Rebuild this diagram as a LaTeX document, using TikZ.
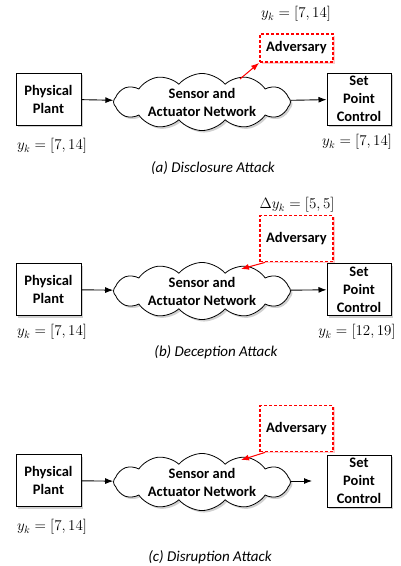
\RequirePackage{fix-cm}
\documentclass[tikz,border=0pt]{standalone}
\usepackage{fontspec}
\setmainfont{Carlito}
\usetikzlibrary{shapes.symbols,shadows,arrows.meta}
\tikzset{
  box/.style={draw=black, line width=1pt, fill=white, minimum width=65pt, minimum height=52pt,
    align=center, inner sep=0pt, font=\fontsize{14.5}{18}\selectfont\bfseries,
    drop shadow={shadow xshift=2pt, shadow yshift=-2pt, fill=black!40, opacity=.45}},
  net/.style={cloud, cloud puffs=12, cloud puff arc=100, cloud ignores aspect, draw=black, line width=0.8pt,
    fill=white, minimum width=177pt, minimum height=48pt, inner sep=0pt, align=center,
    font=\fontsize{14.5}{18}\selectfont\bfseries,
    drop shadow={shadow xshift=2pt, shadow yshift=-2pt, fill=black!40, opacity=.45}},
  adv/.style={draw=red, line width=1.8pt, dash pattern=on 3pt off 2pt, fill=white,
    minimum width=73pt, inner sep=0pt, font=\fontsize{14.5}{18}\selectfont\bfseries,
    drop shadow={shadow xshift=1.5pt, shadow yshift=-1.5pt, fill=red!45, opacity=.45}},
  lbl/.style={inner sep=0pt, font=\fontsize{15}{18}\selectfont},
  captext/.style={inner sep=0pt, font=\fontsize{15}{17}\selectfont\itshape},
  flow/.style={-{Latex[length=8pt,width=6pt]}, line width=0.9pt},
  redflow/.style={-{Latex[length=8pt,width=6pt]}, line width=1pt, draw=red, fill=red}
}
\begin{document}
\begin{tikzpicture}[x=1pt,y=-1pt]
\useasboundingbox (0,0) rectangle (401,566);
% (a)
\node[box] (aplant) at (48.5,99) {Physical\\Plant};
\node[net] (anet) at (202,102) {Sensor and\\Actuator Network};
\node[box, minimum width=64pt] (aspc) at (359,99) {Set\\Point\\Control};
\node[adv, minimum height=28pt] (aadv) at (296.5,48) {Adversary};
\node[lbl] (atop) at (296,14) {$y_k=[7,14]$};
\node[lbl] (aleft) at (52,146) {$y_k=[7,14]$};
\node[lbl] (aright) at (357,142) {$y_k=[7,14]$};
\node[captext] (acap) at (213,168) {(a) Disclosure Attack};
\draw[flow] (aplant) -- (anet);
\draw[flow] (anet) -- (aspc);
\coordinate (aout) at (240,79);
\draw[redflow] (aout) -- (aadv.south west);
% (b)
\node[box] (bplant) at (48.5,289.5) {Physical\\Plant};
\node[net] (bnet) at (202,291) {Sensor and\\Actuator Network};
\node[box, minimum width=64pt] (bspc) at (359,289.5) {Set\\Point\\Control};
\node[adv, minimum height=46pt] (badv) at (296.5,238.5) {Adversary};
\node[lbl] (btop) at (297,205) {$\Delta y_k=[5,5]$};
\node[lbl] (bleft) at (52,332) {$y_k=[7,14]$};
\node[lbl] (bright) at (357,332) {$y_k=[12,19]$};
\node[captext] (bcap) at (216,352) {(b) Deception Attack};
\draw[flow] (bplant) -- (bnet);
\draw[flow] (bnet) -- (bspc);
\coordinate (bin) at (241,269);
\draw[redflow] ([xshift=6pt]badv.south west) -- (bin);
% (c)
\node[box] (cplant) at (48.5,480.5) {Physical\\Plant};
\node[net] (cnet) at (202,482) {Sensor and\\Actuator Network};
\node[box, minimum width=64pt] (cspc) at (359,481) {Set\\Point\\Control};
\node[adv, minimum height=46pt] (cadv) at (296.5,428.5) {Adversary};
\node[lbl] (cleft) at (52,527) {$y_k=[7,14]$};
\node[captext] (ccap) at (210,557) {(c) Disruption Attack};
\draw[flow] (cplant) -- (cnet);
\coordinate (cend) at (312,481);
\draw[flow] (cnet.east |- cend) -- (cend);
\coordinate (cin) at (241,460);
\draw[redflow] ([xshift=6pt]cadv.south west) -- (cin);
\end{tikzpicture}
\end{document}
